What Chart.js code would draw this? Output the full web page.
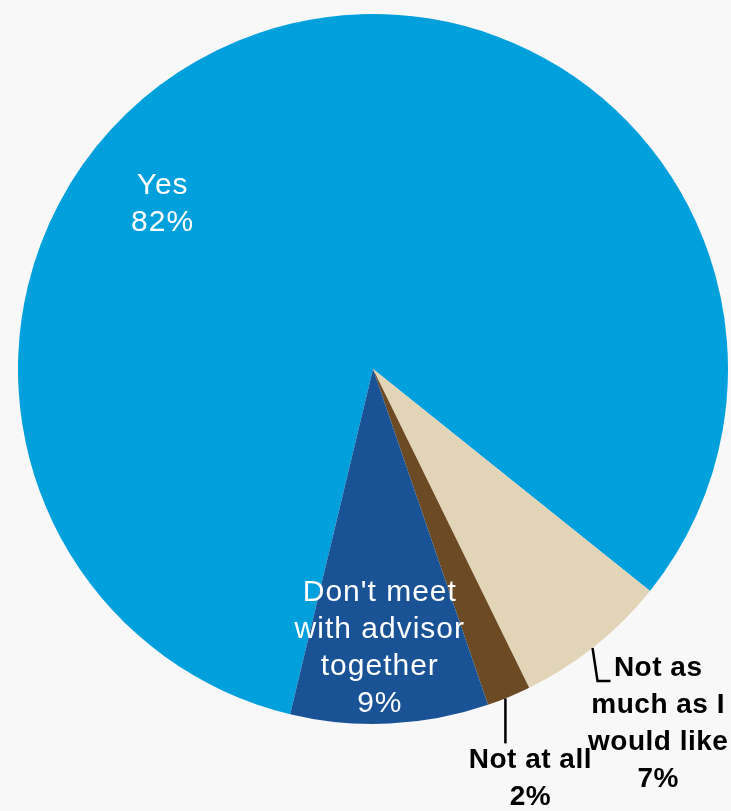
<!DOCTYPE html>
<html>
<head>
<meta charset="utf-8">
<script src="https://cdn.jsdelivr.net/npm/chart.js@4.4.1/dist/chart.umd.min.js"></script>
<style>
    html, body { margin: 0; padding: 0; background: #f8f8f8; }
    #wrap { width: 731px; height: 811px; }
</style>
</head>
<body>
<div id="wrap"><canvas id="chart-1"></canvas></div>
<script>
// Survey answers
const categories = ["Yes", "Not as much as I would like", "Not at all", "Don't meet with advisor together"];
const shares = [82, 7, 2, 9];
const sliceColors = ["#00a0dd", "#e2d4b7", "#6c4a23", "#1a5296"];

// Label text per slice, how it sits around the pie (angle from top in degrees,
// distance as a fraction of the radius) and its colour
const labelLines = [
    ["Yes", "82%"],
    ["Not as", "much as I", "would like", "7%"],
    ["Not at all", "2%"],
    ["Don't meet", "with advisor", "together", "9%"],
];
const labelPlace = [
    { angle: 308, dist: 0.752, color: "#ffffff", bold: false },
    { angle: 141.2, dist: 1.282, color: "#000000", bold: true },
    { angle: 159, dist: 1.237, color: "#000000", bold: true },
    { angle: 178.6, dist: 0.786, color: "#ffffff", bold: false },
];
// Leader lines for the outside labels: start on the rim, then pixel steps
const leaders = [
    { index: 1, angle: 141.8, steps: [[5, 33], [18, 33]] },
    { index: 2, angle: 158.1, steps: [[0, 45]] },
];

const pieLabels = {
    id: "pieLabels",
    afterDatasetsDraw(chart) {
        const ctx = chart.ctx;
        const arc = chart.getDatasetMeta(0).data[0];
        const cx = arc.x, cy = arc.y, r = arc.outerRadius;
        const polar = (deg, d) => {
            const a = (deg - 90) * Math.PI / 180;
            return [cx + Math.cos(a) * r * d, cy + Math.sin(a) * r * d];
        };

        ctx.save();
        ctx.strokeStyle = "#000000";
        ctx.lineWidth = 2.5;
        leaders.forEach(l => {
            const [x0, y0] = polar(l.angle, 1);
            ctx.beginPath();
            ctx.moveTo(x0, y0);
            l.steps.forEach(([dx, dy]) => ctx.lineTo(x0 + dx, y0 + dy));
            ctx.stroke();
        });

        ctx.textAlign = "center";
        ctx.textBaseline = "middle";
        const lineH = 37;
        labelLines.forEach((lines, i) => {
            const p = labelPlace[i];
            ctx.font = p.bold
                ? "bold 28px 'Liberation Sans', Arial, sans-serif"
                : "30px 'Liberation Sans', Arial, sans-serif";
            if ("letterSpacing" in ctx) ctx.letterSpacing = p.bold ? "0.5px" : "1px";
            const [x, y] = polar(p.angle, p.dist);
            ctx.fillStyle = p.color;
            const top = y - (lines.length - 1) * lineH / 2;
            lines.forEach((t, k) => ctx.fillText(t, x, top + k * lineH));
        });
        ctx.restore();
    }
};

const ctx1 = document.getElementById("chart-1").getContext("2d");
const pieChart = new Chart(ctx1, {
    type: "pie",
    data: {
        labels: categories,
        datasets: [{
            data: shares,
            backgroundColor: sliceColors,
            borderWidth: 0,
        }],
    },
    options: {
        responsive: true,
        maintainAspectRatio: false,
        animation: false,
        rotation: 193.5,
        layout: { padding: { left: 18, right: 3, top: 14, bottom: 87 } },
        plugins: {
            legend: { display: false },
            tooltip: { enabled: false },
        },
    },
    plugins: [pieLabels],
});
</script>
</body>
</html>
